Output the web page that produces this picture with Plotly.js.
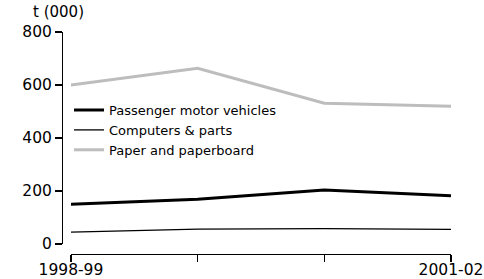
<!DOCTYPE html>
<html>
<head>
<meta charset="utf-8">
<script src="https://cdn.plot.ly/plotly-3.0.1.min.js"></script>
<style>html,body{margin:0;padding:0;background:#fff;}#chart{width:484px;height:279px;}</style>
</head>
<body>
<div id="chart"></div>
<script>
var years = ['1998-99', '1999-00', '2000-01', '2001-02'];
var tickLabels = ['1998-99', '', '', '2001-02'];
var passenger = [150, 169, 204, 182];
var computers = [45, 56, 58, 55];
var paper = [600, 663, 531, 520];
var yTicks = [0, 200, 400, 600, 800];

var xIdx = years.map(function (d, i) { return i; });
var FONT = 'DejaVu Sans, sans-serif';

var traces = [
  {x: xIdx, y: passenger, name: 'Passenger motor vehicles', mode: 'lines',
   line: {color: '#000000', width: 3}, text: years, hoverinfo: 'text+y'},
  {x: xIdx, y: computers, name: 'Computers &amp; parts', mode: 'lines',
   line: {color: '#000000', width: 1.3}, text: years, hoverinfo: 'text+y'},
  {x: xIdx, y: paper, name: 'Paper and paperboard', mode: 'lines',
   line: {color: '#bdbdbd', width: 3}, text: years, hoverinfo: 'text+y'}
];

var layout = {
  width: 484, height: 279,
  margin: {l: 62, r: 33, t: 32, b: 25, pad: 0},
  paper_bgcolor: '#ffffff', plot_bgcolor: '#ffffff',
  font: {family: FONT, color: '#000000', size: 15},
  showlegend: true,
  legend: {x: 0.018, xanchor: 'left', y: 0.716, yanchor: 'top',
           font: {family: FONT, size: 13, color: '#000'},
           bgcolor: 'rgba(0,0,0,0)', borderwidth: 0, tracegroupgap: 0},
  xaxis: {range: [0, xIdx.length - 1], domain: [0.023, 1], anchor: 'free', position: 0,
          tickvals: xIdx, ticktext: tickLabels, ticks: 'outside', ticklen: 7, tickwidth: 1.2,
          tickcolor: '#000', showline: true, linecolor: '#000', linewidth: 1.2,
          ticklabelstandoff: -6,
          showgrid: false, zeroline: false, tickfont: {family: FONT, size: 15.5}},
  yaxis: {range: [0, 800], domain: [0.045, 1], anchor: 'free', position: 0,
          tickvals: yTicks, ticks: 'outside', ticklen: 7, tickwidth: 1.2, tickcolor: '#000',
          showline: true, linecolor: '#000', linewidth: 1.2, showgrid: false, zeroline: false,
          tickfont: {family: FONT, size: 15.5}},
  annotations: [{text: 't (000)', xref: 'paper', yref: 'paper', x: -0.08, y: 1.09,
                 xanchor: 'left', yanchor: 'middle', showarrow: false,
                 font: {family: FONT, size: 15}}]
};

Plotly.newPlot('chart', traces, layout, {displayModeBar: false, staticPlot: true});
</script>
</body>
</html>
